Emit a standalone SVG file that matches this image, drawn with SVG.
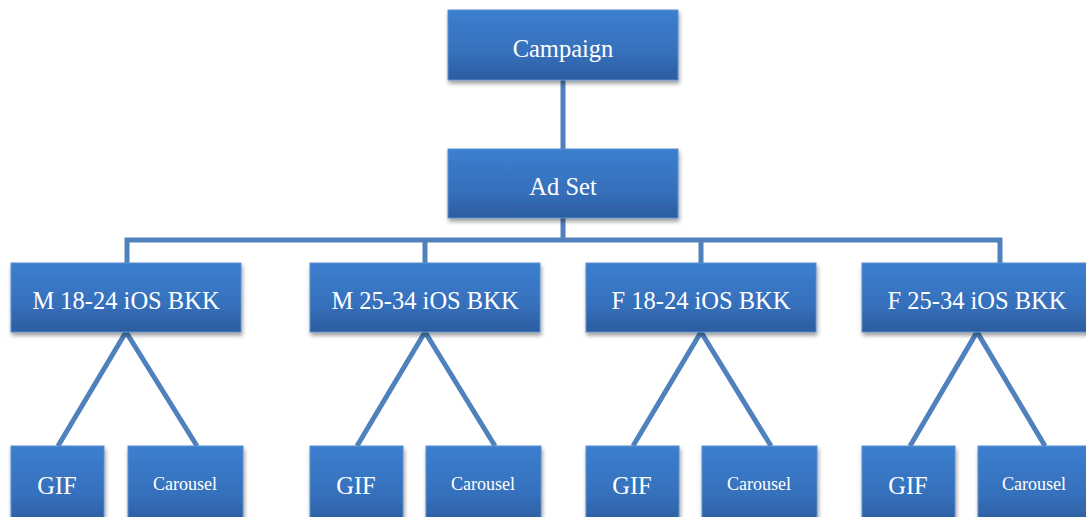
<svg xmlns="http://www.w3.org/2000/svg" width="1086" height="517" viewBox="0 0 1086 517">
<defs>
<linearGradient id="g" x1="0" y1="0" x2="0" y2="1">
<stop offset="0" stop-color="#3b7fcf"/>
<stop offset="0.6" stop-color="#3670bc"/>
<stop offset="1" stop-color="#2c5c9e"/>
</linearGradient>
<filter id="sh" x="-10%" y="-10%" width="130%" height="140%">
<feGaussianBlur in="SourceAlpha" stdDeviation="2"/>
<feOffset dx="1" dy="3" result="b"/>
<feComponentTransfer><feFuncA type="linear" slope="0.4"/></feComponentTransfer>
<feMerge><feMergeNode/><feMergeNode in="SourceGraphic"/></feMerge>
</filter>
</defs>
<style>
.box{fill:url(#g);stroke:#5b8fd0;stroke-width:1;filter:url(#sh)}
.t{font-family:"Liberation Serif","Times New Roman",serif;fill:#ffffff;text-anchor:middle}
.l{font-size:24.5px}
.s{font-size:18px}
.c{stroke:#4f81bd;stroke-width:5;fill:none}
</style>
<rect width="1086" height="517" fill="#ffffff"/>
<g id="connectors">
<line class="c" x1="563" y1="80" x2="563" y2="149"/>
<polyline class="c" points="127,263 127,240 1000,240 1000,263"/>
<line class="c" x1="563" y1="218" x2="563" y2="240"/>
<line class="c" x1="425" y1="240" x2="425" y2="263"/>
<line class="c" x1="701" y1="240" x2="701" y2="263"/>
<polyline class="c" points="58,446 126,332 197,446"/>
<polyline class="c" points="357,446 425,332 495,446"/>
<polyline class="c" points="633,446 701,332 771,446"/>
<polyline class="c" points="910,446 977,332 1045,446"/>
</g>
<g id="campaign"><rect class="box" x="448" y="10" width="230" height="70"/><text class="t l" x="563" y="57">Campaign</text></g>
<g id="adset"><rect class="box" x="448" y="149" width="230" height="69"/><text class="t l" x="563" y="195">Ad Set</text></g>
<g id="m1824"><rect class="box" x="11" y="263" width="230" height="69"/><text class="t l" x="126" y="309">M 18-24 iOS BKK</text></g>
<g id="m2534"><rect class="box" x="310" y="263" width="230" height="69"/><text class="t l" x="425" y="309">M 25-34 iOS BKK</text></g>
<g id="f1824"><rect class="box" x="586" y="263" width="230" height="69"/><text class="t l" x="701" y="309">F 18-24 iOS BKK</text></g>
<g id="f2534"><rect class="box" x="862" y="263" width="230" height="69"/><text class="t l" x="977" y="309">F 25-34 iOS BKK</text></g>
<g id="gif1"><rect class="box" x="11" y="446" width="93" height="80"/><text class="t l" x="57" y="494">GIF</text></g>
<g id="car1"><rect class="box" x="128" y="446" width="115" height="80"/><text class="t s" x="185" y="490">Carousel</text></g>
<g id="gif2"><rect class="box" x="310" y="446" width="93" height="80"/><text class="t l" x="356" y="494">GIF</text></g>
<g id="car2"><rect class="box" x="426" y="446" width="115" height="80"/><text class="t s" x="483" y="490">Carousel</text></g>
<g id="gif3"><rect class="box" x="586" y="446" width="93" height="80"/><text class="t l" x="632" y="494">GIF</text></g>
<g id="car3"><rect class="box" x="702" y="446" width="115" height="80"/><text class="t s" x="759" y="490">Carousel</text></g>
<g id="gif4"><rect class="box" x="862" y="446" width="93" height="80"/><text class="t l" x="908" y="494">GIF</text></g>
<g id="car4"><rect class="box" x="978" y="446" width="115" height="80"/><text class="t s" x="1034" y="490">Carousel</text></g>
</svg>
